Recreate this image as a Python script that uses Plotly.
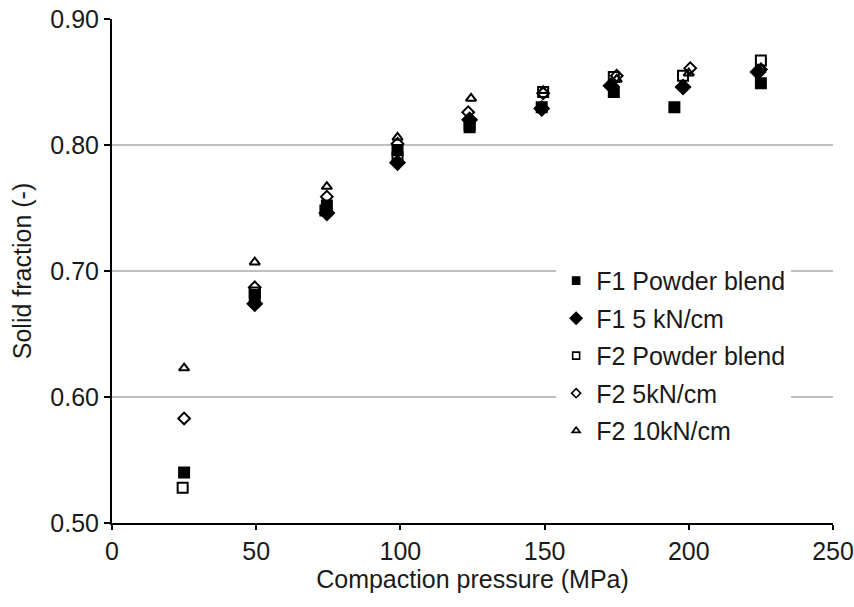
import plotly.graph_objects as go

# Compaction pressure (MPa) and solid fraction (-) per series
f1_powder_x = [25, 49.5, 74.5, 99, 124, 149, 174, 195, 225]
f1_powder_y = [0.540, 0.681, 0.752, 0.796, 0.814, 0.830, 0.842, 0.830, 0.849]

f1_5kn_x = [49.5, 74.5, 99, 124, 149, 173, 198, 224]
f1_5kn_y = [0.674, 0.746, 0.786, 0.820, 0.829, 0.847, 0.846, 0.858]

f2_powder_x = [24.5, 49.5, 74, 99, 124, 149.5, 174, 198, 225]
f2_powder_y = [0.528, 0.683, 0.748, 0.790, 0.816, 0.842, 0.854, 0.855, 0.867]

f2_5kn_x = [25, 49.5, 74.5, 99, 123.5, 149.5, 175, 200.5, 225]
f2_5kn_y = [0.583, 0.687, 0.759, 0.801, 0.826, 0.841, 0.855, 0.861, 0.860]

f2_10kn_x = [25, 49.5, 74.5, 99, 124.5, 149.5, 175, 200, 225]
f2_10kn_y = [0.623, 0.707, 0.767, 0.806, 0.837, 0.843, 0.852, 0.857, 0.861]

series_names = ["F1 Powder blend", "F1 5 kN/cm", "F2 Powder blend", "F2 5kN/cm", "F2 10kN/cm"]
x_ticks = [0, 50, 100, 150, 200, 250]
y_ticks = [0.50, 0.60, 0.70, 0.80, 0.90]

series = [
    (f1_powder_x, f1_powder_y, "square", 10, 7),
    (f1_5kn_x, f1_5kn_y, "diamond", 11, 9),
    (f2_powder_x, f2_powder_y, "square-open", 10, 7),
    (f2_5kn_x, f2_5kn_y, "diamond-open", 9, 7),
    (f2_10kn_x, f2_10kn_y, "triangle-up-open", 9, 7),
]

fig = go.Figure()
for i, ((xs, ys, sym, sz, lsz), name) in enumerate(zip(series, series_names)):
    fig.add_trace(go.Scatter(
        x=xs, y=ys, mode="markers", name=name, showlegend=False,
        marker=dict(symbol=sym, size=sz, color="black",
                    line=dict(color="black", width=2)),
    ))
for i, ((xs, ys, sym, sz, lsz), name) in enumerate(zip(series, series_names)):
    # legend-only entries with the smaller legend markers
    fig.add_trace(go.Scatter(
        x=[None], y=[None], mode="markers", name=name, legendgroup=f"g{i}",
        marker=dict(symbol=sym, size=lsz, color="black",
                    line=dict(color="black", width=1.6)),
    ))

font_family = "Liberation Sans, Arial, sans-serif"
txt = "#1a1a1a"
fig.update_layout(
    width=854, height=607,
    margin=dict(l=112, r=21, t=19, b=84),
    plot_bgcolor="white", paper_bgcolor="white",
    font=dict(family=font_family, color=txt, size=25),
    legend=dict(
        x=0.616, y=0.526, xanchor="left", yanchor="top",
        bgcolor="white", font=dict(size=25, family=font_family, color=txt),
        itemwidth=30, tracegroupgap=2,
    ),
    xaxis=dict(
        range=[0, 250], tickvals=x_ticks, ticktext=[str(v) for v in x_ticks],
        showgrid=False, zeroline=False, automargin=False,
        showline=True, linecolor="black", linewidth=2,
        ticks="outside", ticklen=5, tickwidth=2, tickcolor="black",
        tickfont=dict(size=25),
        title=dict(text="Compaction pressure (MPa)", font=dict(size=25), standoff=6),
    ),
    yaxis=dict(
        range=[0.50, 0.90], tickvals=y_ticks, ticktext=[f"{v:.2f}" for v in y_ticks],
        showgrid=True, gridcolor="#BFBFBF", gridwidth=2, zeroline=False, automargin=False,
        showline=True, linecolor="black", linewidth=2,
        ticks="outside", ticklen=6, tickwidth=2, tickcolor="black",
        tickfont=dict(size=25),
        title=dict(text="Solid fraction (-)", font=dict(size=25), standoff=12),
    ),
)

fig.write_html("out.html")
